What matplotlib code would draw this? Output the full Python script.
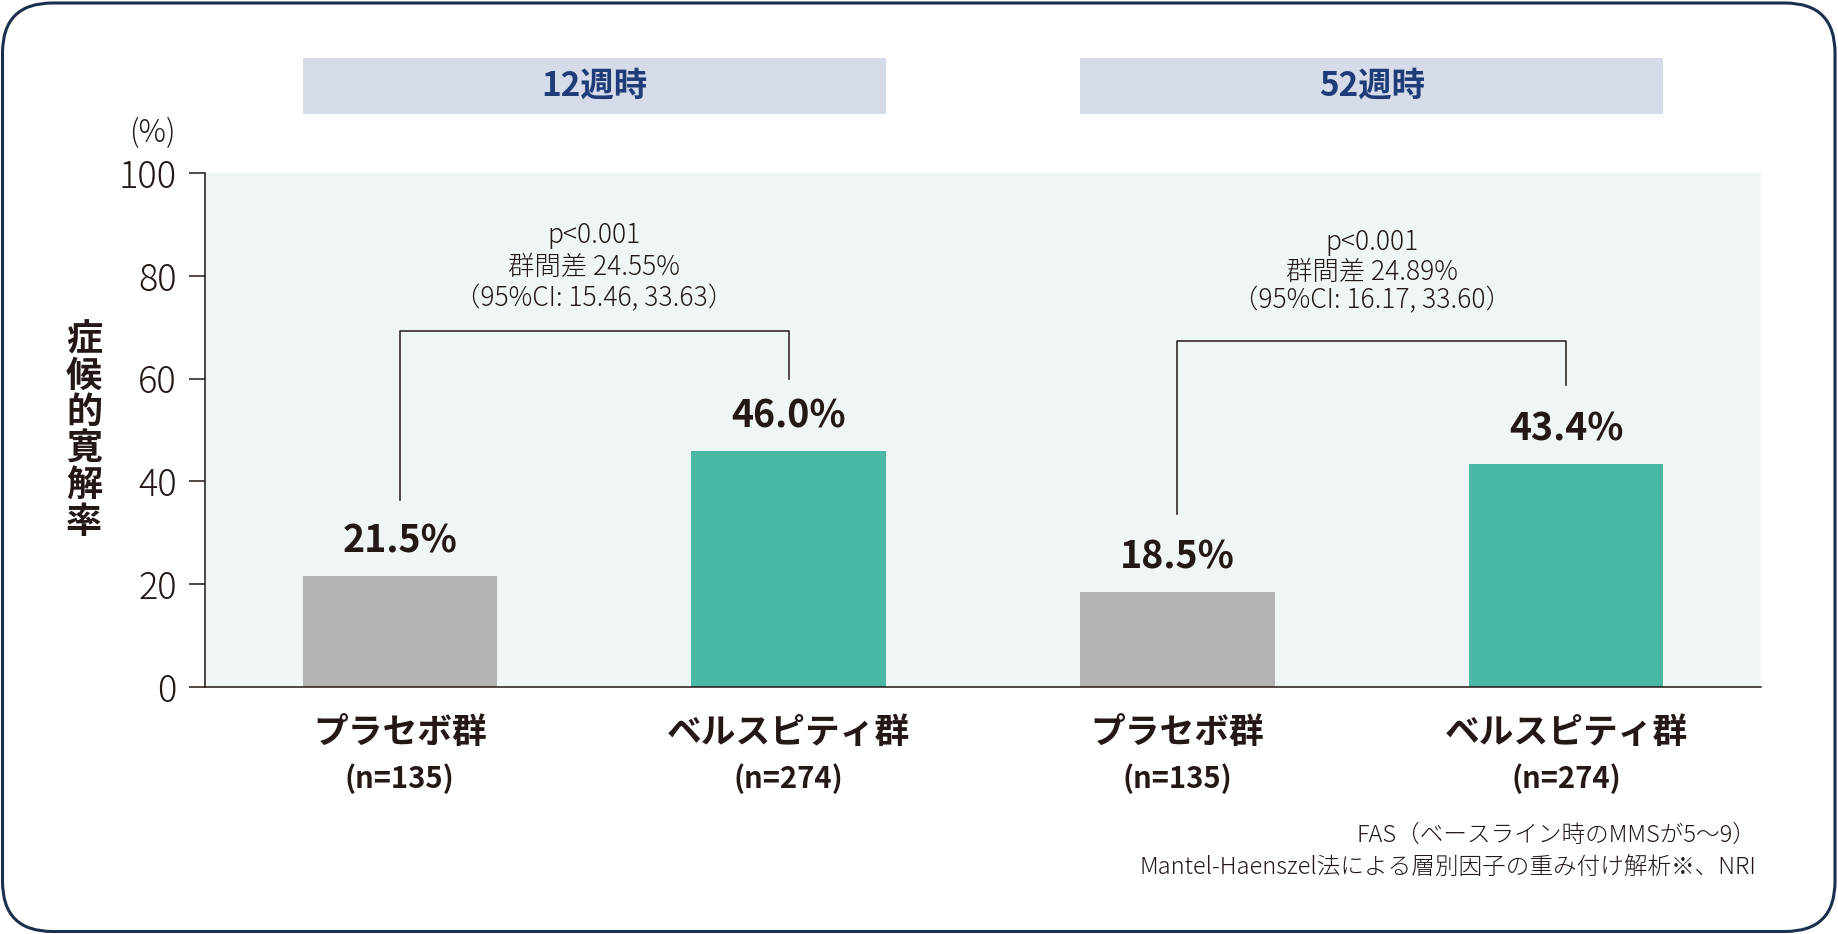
import matplotlib
matplotlib.use("Agg")
import matplotlib.pyplot as plt
import matplotlib.patches as mpatches
import matplotlib.transforms as mtransforms

plt.rcParams['font.family'] = ['Noto Sans CJK JP', 'DejaVu Sans']

# data
periods = ['12週時', '52週時']
arms = ['プラセボ群', 'ベルスピティ群']
n_labels = ['(n=135)', '(n=274)']
remission = [21.5, 46.0, 18.5, 43.4]   # placebo, drug for 12w then 52w
p_values = ['p<0.001', 'p<0.001']
group_diff = ['群間差 24.55%', '群間差 24.89%']
ci_texts = ['（95%CI: 15.46, 33.63）', '（95%CI: 16.17, 33.60）']
yticks = [0, 20, 40, 60, 80, 100]

# layout of the brackets (left foot, top, right foot)
brackets = [(36.3, 69.3, 59.9), (33.7, 67.3, 58.8)]
note_lines = ['FAS（ベースライン時のMMSが5～9）',
              'Mantel-Haenszel法による層別因子の重み付け解析※、NRI']

dark = '#231815'
navy = '#1d3c78'
bar_colors = ['#b3b3b3', '#4bb8a6']

W, H = 1838, 934
fig = plt.figure(figsize=(W / 100, H / 100), dpi=100)
ax = fig.add_axes([205.4 / W, 1 - 686.8 / H, (1760.7 - 205.4) / W, (686.8 - 173.3) / H])
ax.set_facecolor('#f0f6f5')

xpos = list(range(len(remission)))
colors = [bar_colors[i % 2] for i in xpos]
ax.bar(xpos, remission, width=0.5, color=colors, zorder=2)

for x, v in zip(xpos, remission):
    ax.text(x, v + 6.8, f'{v:.1f}%', ha='center', va='center',
            fontsize=27, fontweight='bold', color=dark)

ax.set_xlim(-0.5, 3.5)
ax.set_ylim(0, 100)
ax.set_yticks(yticks)
ax.set_yticklabels([str(t) for t in yticks], fontsize=26, fontweight='light', color=dark)
ax.set_xticks([])
ax.tick_params(axis='y', length=11.5, width=1.1, color=dark, pad=9)
for s in ['top', 'right']:
    ax.spines[s].set_visible(False)
for s in ['left', 'bottom']:
    ax.spines[s].set_color(dark)
    ax.spines[s].set_linewidth(1.1)

# x labels
for i, x in enumerate(xpos):
    ax.text(x, -8.8, arms[i % 2], ha='center', va='center', fontsize=25,
            fontweight='bold', color=dark, clip_on=False)
    ax.text(x, -17.8, n_labels[i % 2], ha='center', va='center', fontsize=21,
            fontweight='bold', color=dark, clip_on=False)

# period headers, brackets and stats
for g in range(2):
    x0, x1 = xpos[2 * g], xpos[2 * g + 1]
    ax.add_patch(mpatches.Rectangle((x0 - 0.25, 111.6), (x1 - x0) + 0.5, 10.9,
                                    facecolor='#d5dbe8', edgecolor='none', clip_on=False))
    ax.text((x0 + x1) / 2, 117.05, periods[g], ha='center', va='center', fontsize=24,
            fontweight='bold', color=navy, clip_on=False)
    lb, top, rb = brackets[g]
    ax.plot([x0, x0, x1, x1], [lb, top, top, rb], color=dark, lw=1.1, zorder=3)
    xm = (x0 + x1) / 2
    tops = [88.0, 81.8, 75.7] if g == 0 else [86.7, 80.8, 75.3]
    for txt, yy in zip([p_values[g], group_diff[g], ci_texts[g]], tops):
        ax.text(xm, yy, txt, ha='center', va='center', fontsize=19,
                fontweight='light', color=dark)

# axis unit and vertical title
fig.text(152 / W, 1 - 133 / H, '(%)', ha='center', va='center', fontsize=22,
         fontweight='light', color=dark)
fig.text(84 / W, 1 - 431 / H, '\n'.join('症候的寛解率'), ha='center', va='center',
         fontsize=26, fontweight='bold', color=dark, linespacing=0.98)

# footnotes
fig.text(1756 / W, 1 - 835 / H, note_lines[0], ha='right', va='center', fontsize=17,
         fontweight='light', color=dark)
fig.text(1756 / W, 1 - 867 / H, note_lines[1], ha='right', va='center', fontsize=17,
         fontweight='light', color=dark)

# rounded frame
frame = mpatches.FancyBboxPatch((2.5, 2.5), W - 5.5, H - 5.5,
                                boxstyle='round,pad=0,rounding_size=50',
                                facecolor='none', edgecolor='#1b2f4f', lw=2.2,
                                transform=mtransforms.IdentityTransform())
fig.patches.append(frame)

fig.savefig('out.png', dpi=100)
